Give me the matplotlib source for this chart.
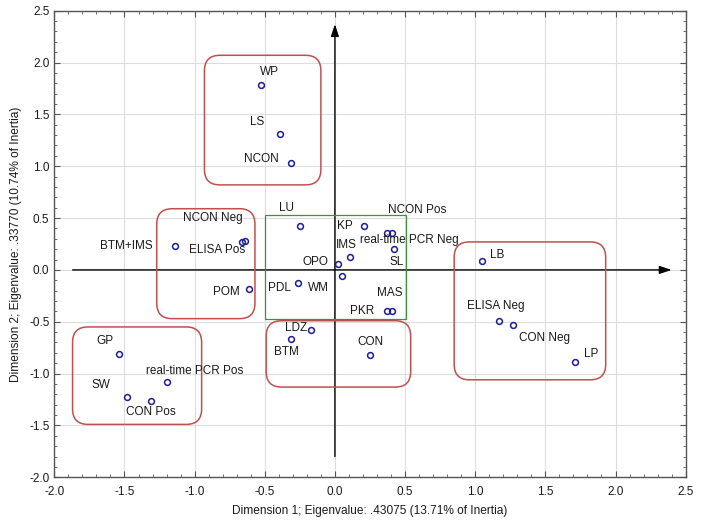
import matplotlib
matplotlib.use("Agg")
import matplotlib.pyplot as plt
from matplotlib.patches import FancyBboxPatch, Rectangle
from matplotlib.ticker import MultipleLocator, FormatStrFormatter

plt.rcParams['font.family'] = ['Liberation Sans', 'DejaVu Sans']
plt.rcParams['axes.unicode_minus'] = False

# categorias e coordenadas (dimensao 1, dimensao 2)
nomes = ["WP", "LS", "NCON", "LU", "KP", "NCON Neg", "ELISA Pos", "BTM+IMS",
         "IMS", "OPO", "PDL", "WM", "POM", "GP", "real-time PCR Pos", "SW",
         "CON Pos", "LDZ", "BTM", "NCON Pos", "real-time PCR Neg", "SL", "MAS",
         "PKR", "CON", "LB", "ELISA Neg", "CON Neg", "LP"]
dim1 = [-0.53, -0.39, -0.31, -0.25, 0.21, -0.64, -0.66, -1.14,
        0.11, 0.02, -0.26, 0.05, -0.61, -1.54, -1.20, -1.48,
        -1.31, -0.17, -0.31, 0.37, 0.41, 0.42, 0.37,
        0.41, 0.25, 1.05, 1.17, 1.27, 1.71]
dim2 = [1.78, 1.31, 1.03, 0.42, 0.42, 0.28, 0.27, 0.23,
        0.12, 0.06, -0.13, -0.06, -0.18, -0.81, -1.08, -1.23,
        -1.26, -0.58, -0.67, 0.36, 0.36, 0.20, -0.40,
        -0.40, -0.82, 0.09, -0.49, -0.53, -0.89]

# deslocamento dos rotulos (pixels)
offsets = {"WP": (9, 13), "LS": (-23, 12), "NCON": (-30, 4), "LU": (-13, 18),
           "KP": (-20, 0), "NCON Neg": (-32, 23), "ELISA Pos": (-25, -8),
           "BTM+IMS": (-49, 0), "IMS": (-4, 12), "OPO": (-22, 2),
           "PDL": (-19, -5), "WM": (-23, -12), "POM": (-23, -3),
           "GP": (-14, 13), "real-time PCR Pos": (28, 11), "SW": (-26, 12),
           "CON Pos": (0, -11), "LDZ": (-15, 2), "BTM": (-5, -13),
           "NCON Pos": (30, 23), "real-time PCR Neg": (17, -7), "SL": (3, -13),
           "MAS": (3, 18), "PKR": (-30, 0), "CON": (0, 13), "LB": (15, 6),
           "ELISA Neg": (-3, 15), "CON Neg": (31, -13), "LP": (16, 8)}

# grupos (x0, x1, y0, y1)
grupos_vermelhos = [(-0.93, -0.10, 0.82, 2.07),
                    (-1.27, -0.57, -0.47, 0.59),
                    (-1.87, -0.95, -1.49, -0.55),
                    (-0.49, 0.54, -1.13, -0.49),
                    (0.85, 1.93, -1.06, 0.27)]
grupo_verde = (-0.50, 0.51, -0.47, 0.53)

fig = plt.figure(figsize=(7.01, 5.25), dpi=100)
ax = fig.add_axes([0.0775, 0.0909, 0.9006, 0.8887])
ax.set_xlim(-2.0, 2.5)
ax.set_ylim(-2.0, 2.5)

ax.xaxis.set_major_locator(MultipleLocator(0.5))
ax.yaxis.set_major_locator(MultipleLocator(0.5))
ax.xaxis.set_minor_locator(MultipleLocator(0.1))
ax.yaxis.set_minor_locator(MultipleLocator(0.1))
ax.xaxis.set_major_formatter(FormatStrFormatter('%.1f'))
ax.yaxis.set_major_formatter(FormatStrFormatter('%.1f'))
ax.tick_params(which='both', direction='in', top=True, right=True,
               colors='#555555', labelcolor='#1a1a1a', labelsize=8.5)
ax.tick_params(which='major', length=4, width=0.8)
ax.tick_params(which='minor', length=2.5, width=0.6)
ax.tick_params(axis='x', which='major', pad=6.5)
for s in ax.spines.values():
    s.set_color('#555555')
    s.set_linewidth(1.0)
ax.grid(True, which='major', color='#dddddd', linewidth=0.8)
ax.set_axisbelow(True)

# eixos com setas
seta = dict(arrowstyle='-|>,head_length=0.6,head_width=0.2', color='black',
            lw=1.0, mutation_scale=12, shrinkA=0, shrinkB=0)
ax.annotate("", xy=(2.40, 0), xytext=(-1.87, 0), arrowprops=seta)
ax.annotate("", xy=(0, 2.37), xytext=(0, -1.80), arrowprops=seta)

asp = 1.357
for x0, x1, y0, y1 in grupos_vermelhos:
    p = FancyBboxPatch((x0, y0), x1 - x0, y1 - y0,
                       boxstyle="round,pad=0,rounding_size=0.11",
                       mutation_aspect=asp, fill=False,
                       edgecolor='#c0504d', linewidth=1.1, zorder=3)
    ax.add_patch(p)
x0, x1, y0, y1 = grupo_verde
ax.add_patch(Rectangle((x0, y0), x1 - x0, y1 - y0, fill=False,
                       edgecolor='#3f8f3f', linewidth=0.9, zorder=3))

ax.plot(dim1, dim2, 'o', markerfacecolor='none', markeredgecolor='#1c1c9c',
        markersize=4.2, markeredgewidth=1.1, zorder=5)

for n, x, y in zip(nomes, dim1, dim2):
    dx, dy = offsets[n]
    ax.annotate(n, (x, y), xytext=(dx, dy), textcoords='offset pixels',
                ha='center', va='center', fontsize=8.5, color='#1a1a1a',
                zorder=6)

ax.set_xlabel("Dimension 1; Eigenvalue: .43075 (13.71% of Inertia)",
              fontsize=8.6, color='#1a1a1a', labelpad=5)
ax.set_ylabel("Dimension 2; Eigenvalue: .33770 (10.74% of Inertia)",
              fontsize=8.6, color='#1a1a1a', labelpad=5)

fig.savefig("out.png", dpi=100)
